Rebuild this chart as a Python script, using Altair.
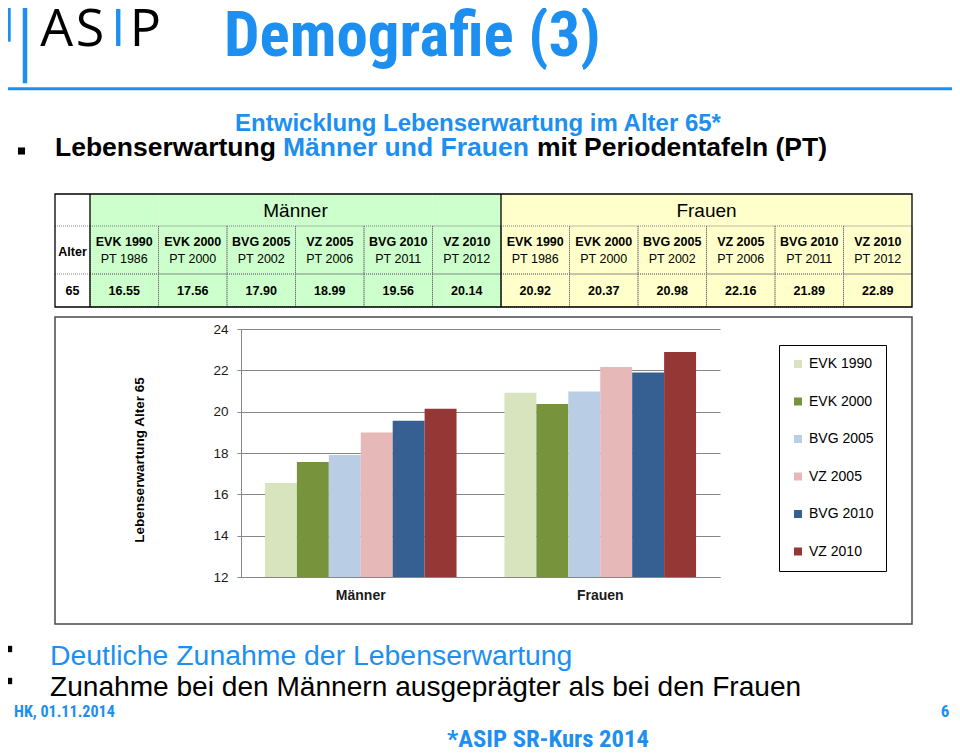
import altair as alt
import pandas as pd

# ---------------- data ----------------
groups = ["Männer", "Frauen"]
series = ["EVK 1990", "EVK 2000", "BVG 2005", "VZ 2005", "BVG 2010", "VZ 2010"]
tables = ["PT 1986", "PT 2000", "PT 2002", "PT 2006", "PT 2011", "PT 2012"]
maenner = [16.55, 17.56, 17.90, 18.99, 19.56, 20.14]
frauen = [20.92, 20.37, 20.98, 22.16, 21.89, 22.89]
bar_colors = ["#D7E4BD", "#77933C", "#B9CDE5", "#E6B9B8", "#376092", "#953735"]
y_ticks = [12, 14, 16, 18, 20, 22, 24]

rows = []
for g, vals in zip(groups, [maenner, frauen]):
    for s, p, v in zip(series, tables, vals):
        rows.append({"group": g, "series": s, "pt": p, "value": v, "key": g + " " + s})
df = pd.DataFrame(rows)
keys = list(df["key"])

# ---------------- styling ----------------
FONT = "Liberation Sans"
COND = "Roboto Condensed, Liberation Sans"
LOGO = "Open Sans"
BLUE = "#1c8ff0"
GRID = "#868686"
W, H = 479, 248
PAD = {"left": 233, "top": 321, "right": 232, "bottom": 171}

one = pd.DataFrame({"k": [0]})


def label(s, x, y, size, color="black", weight="normal", align="left",
          font=FONT, angle=0, baseline="alphabetic"):
    return alt.Chart(one).mark_text(
        text=s, fontSize=size, fontWeight=weight, color=color, align=align,
        baseline=baseline, font=font, angle=angle
    ).encode(x=alt.value(x), y=alt.value(y))


def rule(x, x2, y, y2, color, w, dash=None):
    kw = dict(color=color, strokeWidth=w)
    if dash:
        kw["strokeDash"] = dash
    return alt.Chart(one).mark_rule(**kw).encode(
        x=alt.value(x), x2=alt.value(x2), y=alt.value(y), y2=alt.value(y2))


def box(x, x2, y, y2, color, w):
    return alt.Chart(one).mark_rect(fillOpacity=0, stroke=color, strokeWidth=w).encode(
        x=alt.value(x), x2=alt.value(x2), y=alt.value(y), y2=alt.value(y2))


def bullet(x, y, size):
    return alt.Chart(one).mark_square(size=size, color="black", filled=True, opacity=1).encode(
        x=alt.value(x), y=alt.value(y))


# ---------------- bar chart ----------------
bars = alt.Chart(df).mark_bar(strokeWidth=0).encode(
    x=alt.X("group:N", sort=groups,
            scale=alt.Scale(paddingInner=0.2, paddingOuter=0.1),
            axis=alt.Axis(title=None, labelAngle=0, ticks=False, domainColor=GRID,
                          labelFontWeight="bold", labelFontSize=14, labelPadding=11,
                          labelColor="#1a1a1a", labelFont=FONT)),
    xOffset=alt.XOffset("series:N", sort=series,
                        scale=alt.Scale(paddingInner=0, paddingOuter=0)),
    y=alt.Y("value:Q", scale=alt.Scale(domain=[12, 24], nice=False, zero=False),
            axis=alt.Axis(title=None, values=y_ticks, grid=True, gridColor=GRID,
                          domainColor=GRID, tickColor=GRID, tickSize=4,
                          labelFontSize=13.5, labelPadding=9, labelColor="#1a1a1a",
                          labelFont=FONT)),
    y2=alt.Y2Datum(12),
    color=alt.Color("series:N", sort=series, title=None,
                    scale=alt.Scale(domain=series, range=bar_colors),
                    legend=alt.Legend(orient="none", legendX=538, legendY=16,
                                      direction="vertical", strokeColor="black",
                                      fillColor="white", padding=12,
                                      symbolType="square", symbolSize=64,
                                      symbolStrokeWidth=0, labelFontSize=14,
                                      labelFont=FONT, labelColor="black",
                                      rowPadding=23.5, labelOffset=4)),
)

# ---------------- table ----------------
tx = alt.Scale(domain=keys, range=[-151, 671], paddingInner=0, paddingOuter=0)


def TX(bp=None):
    if bp is None:
        return alt.X("key:N", scale=tx, axis=None)
    return alt.X("key:N", scale=tx, axis=None, bandPosition=bp)


t_fill = alt.Chart(df).mark_rect(strokeWidth=0).encode(
    x=TX(), y=alt.value(-135), y2=alt.value(-22),
    fill=alt.condition("datum.group == 'Männer'", alt.value("#CCFFCC"), alt.value("#FFFFCC")))
t_cells2 = alt.Chart(df).mark_rect(fillOpacity=0, stroke="#7a7a7a", strokeWidth=1,
                                   strokeDash=[1, 1]).encode(
    x=TX(), y=alt.value(-103), y2=alt.value(-55))
t_cells3 = alt.Chart(df).mark_rect(fillOpacity=0, stroke="#7a7a7a", strokeWidth=1,
                                   strokeDash=[1, 1]).encode(
    x=TX(), y=alt.value(-55), y2=alt.value(-22))
t_split = alt.Chart(df).transform_filter(
    "datum.group == 'Frauen' && datum.series == 'EVK 1990'").mark_rule(
    color="black", strokeWidth=1.3).encode(x=TX(0), y=alt.value(-135), y2=alt.value(-22))
t_group = alt.Chart(df).transform_filter("datum.series == 'BVG 2005'").mark_text(
    fontSize=19, font=FONT, baseline="middle", align="center", color="black").encode(
    x=TX(1), y=alt.value(-118), text="group:N")
t_m1 = alt.Chart(df).mark_text(fontSize=12.5, font=FONT, fontWeight="bold",
                               baseline="middle", align="center", color="black").encode(
    x=TX(), y=alt.value(-87), text="series:N")
t_m2 = alt.Chart(df).mark_text(fontSize=12.5, font=FONT, baseline="middle",
                               align="center", color="black").encode(
    x=TX(), y=alt.value(-70), text="pt:N")
t_val = alt.Chart(df).mark_text(fontSize=12.5, font=FONT, fontWeight="bold",
                                baseline="middle", align="center", color="black").encode(
    x=TX(), y=alt.value(-38.5), text=alt.Text("value:Q", format=".2f"))

table = alt.layer(t_fill, t_cells2, t_cells3, t_split, t_group, t_m1, t_m2, t_val)

annots = [
    # logo
    rule(-232.3, -232.3, -327.3, -287.3, BLUE, 4),
    rule(-216, -216, -327.3, -245.7, BLUE, 4.5),
    rule(-233, 711, -240.3, -240.3, BLUE, 3),
    label("A", -184.3, -283, 52, font=LOGO, align="center"),
    label("S", -151, -283, 52, font=LOGO, align="center"),
    label("I", -122.7, -283, 52, font=LOGO, align="center", color=BLUE),
    label("P", -95.5, -283, 52, font=LOGO, align="center"),
    # titles
    label("Demografie (3)", -17, -273, 63, color=BLUE, weight="bold", font=COND),
    label("Entwicklung Lebenserwartung im Alter 65*", 237, -198, 24, color=BLUE,
          weight="bold", align="center"),
    bullet(-219.5, -178, 50),
    label("Lebenserwartung", -186, -173, 26.5, weight="bold"),
    label("Männer und Frauen", 42, -173, 26.5, weight="bold", color=BLUE),
    label("mit Periodentafeln (PT)", 296, -173, 26.5, weight="bold"),
    # table extras
    rule(-186, -151, -103, -103, "#7a7a7a", 1, [1, 1]),
    rule(-186, -151, -55, -55, "#7a7a7a", 1, [1, 1]),
    rule(-151, -151, -135, -22, "black", 1.3),
    box(-186, 671, -135, -22, "black", 1.3),
    label("Alter", -168.5, -77, 12.5, weight="bold", align="center", baseline="middle"),
    label("65", -168.5, -38.5, 12.5, weight="bold", align="center", baseline="middle"),
    # chart frame and y title
    box(-186, 671, -12, 295, "#4a4a4a", 1.5),
    label("Lebenserwartung Alter 65", -101, 131, 13.5, weight="bold", align="center",
          baseline="middle", angle=270),
    # bottom text
    bullet(-232, 320, 40),
    bullet(-232, 352, 40),
    label("Deutliche Zunahme der Lebenserwartung", -191, 336, 28.4, color=BLUE),
    label("Zunahme bei den Männern ausgeprägter als bei den Frauen", -191, 367, 28.1),
    label("HK, 01.11.2014", -227, 388, 16.1, color=BLUE, weight="bold", font=COND),
    label("6", 704, 388, 17, color=BLUE, weight="bold", align="center", font=COND),
    label("*ASIP SR-Kurs 2014", 307, 418, 24.7, color=BLUE, weight="bold",
          align="center", font=COND),
]

chart = alt.layer(bars, table, *annots).resolve_scale(x="independent").properties(
    width=W, height=H, padding=PAD, autosize=alt.AutoSizeParams(type="none"),
    background="white",
).configure_view(strokeWidth=0)

chart.save("out.html", embed_options={"renderer": "svg", "actions": False})
